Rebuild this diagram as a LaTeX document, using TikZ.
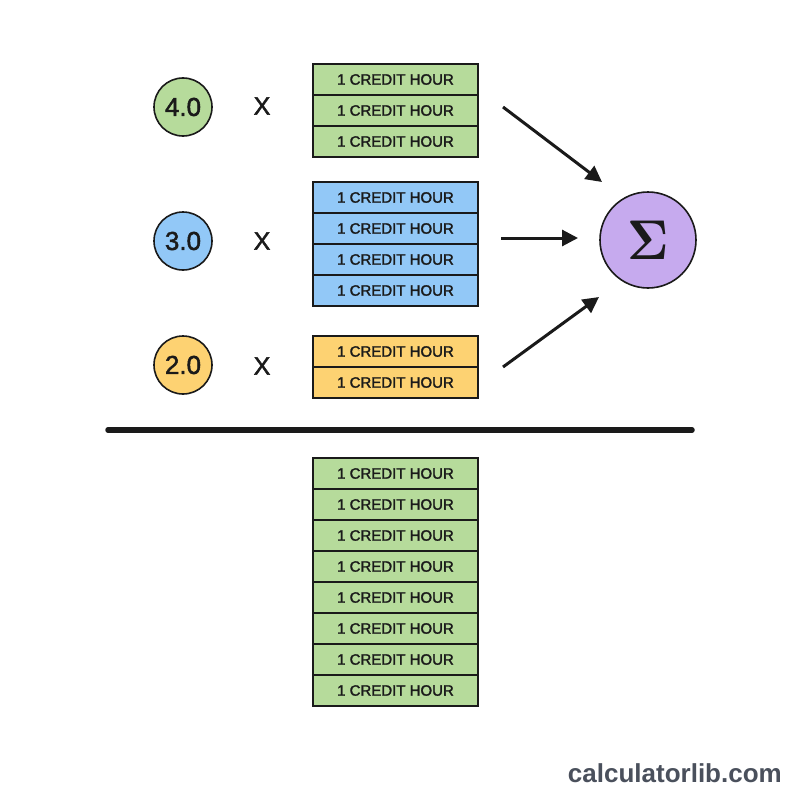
\documentclass[tikz,border=0pt]{standalone}
\usepackage[no-math]{fontspec}
\setmainfont{Liberation Sans}
\newfontfamily\medfont[FakeBold=1.8]{Liberation Sans}
\usetikzlibrary{arrows.meta}
\definecolor{cgreen}{HTML}{B6DB9B}
\definecolor{cblue}{HTML}{92C8F7}
\definecolor{cyellow}{HTML}{FDD272}
\definecolor{cpurple}{HTML}{C6AAEE}
\definecolor{ink}{HTML}{1A1A1A}
\definecolor{mark}{HTML}{4A505C}
\begin{document}
\begin{tikzpicture}[x=1pt,y=-1pt,
  cell/.style={draw=ink, line width=1.6pt, minimum width=165pt, minimum height=31pt, inner sep=0pt,
    font=\medfont\fontsize{15}{15}\selectfont, text=ink},
  grade/.style={circle, draw=ink, line width=1.6pt, minimum size=58pt, inner sep=0pt,
    font=\medfont\fontsize{26}{26}\selectfont, text=ink},
  times/.style={inner sep=0pt, font=\medfont\fontsize{25}{25}\selectfont, text=ink},
  sumnode/.style={circle, draw=ink, line width=1.6pt, minimum size=96pt, inner sep=0pt, fill=cpurple,
    font=\fontsize{10}{12}\selectfont, text=ink},
  arr/.style={line width=3pt, draw=ink, -{Triangle[length=16pt,width=16pt]}}]
\useasboundingbox (0,0) rectangle (800,800);
\fill[white] (0,0) rectangle (800,800);
% grade circles
\node[grade, fill=cgreen] (c4) at (183,107) {4.0};
\node[grade, fill=cblue] (c3) at (183,241) {3.0};
\node[grade, fill=cyellow] (c2) at (183,365) {2.0};
\node[times] (x4) at (262,106) {X};
\node[times] (x3) at (262,241) {X};
\node[times] (x2) at (262,366) {X};
% green stack
\node[cell, fill=cgreen] (g1) at (395.5,79.5) {1 CREDIT HOUR};
\node[cell, fill=cgreen] (g2) at (395.5,110.5) {1 CREDIT HOUR};
\node[cell, fill=cgreen] (g3) at (395.5,141.5) {1 CREDIT HOUR};
% blue stack
\node[cell, fill=cblue] (b1) at (395.5,197.5) {1 CREDIT HOUR};
\node[cell, fill=cblue] (b2) at (395.5,228.5) {1 CREDIT HOUR};
\node[cell, fill=cblue] (b3) at (395.5,259.5) {1 CREDIT HOUR};
\node[cell, fill=cblue] (b4) at (395.5,290.5) {1 CREDIT HOUR};
% yellow stack
\node[cell, fill=cyellow] (y1) at (395.5,351.5) {1 CREDIT HOUR};
\node[cell, fill=cyellow] (y2) at (395.5,382.5) {1 CREDIT HOUR};
% sum
\node[sumnode] (sum) at (648,240) {\scalebox{5.0}[5.6]{$\mathbf{\Sigma}$}};
% arrows
\coordinate (a1s) at (503,107);
\coordinate (a1e) at (602,182);
\coordinate (a2s) at (501,238);
\coordinate (a2e) at (578,238);
\coordinate (a3s) at (503,367);
\coordinate (a3e) at (599,297);
\draw[arr] (a1s) -- (a1e);
\draw[arr] (a2s) -- (a2e);
\draw[arr] (a3s) -- (a3e);
% division line
\coordinate (l1) at (108,430);
\coordinate (l2) at (692,430);
\draw[ink, line width=5.5pt, line cap=round] (l1) -- (l2);
% denominator stack
\foreach \i in {1,...,8}{
  \node[cell, fill=cgreen] (d\i) at (395.5,{473.5+31*(\i-1)}) {1 CREDIT HOUR};
}
% watermark
\node[anchor=base east, inner sep=0pt, text=mark, font=\bfseries\fontsize{26}{26}\selectfont] (wm) at (782,782) {calculatorlib.com};
\end{tikzpicture}
\end{document}
